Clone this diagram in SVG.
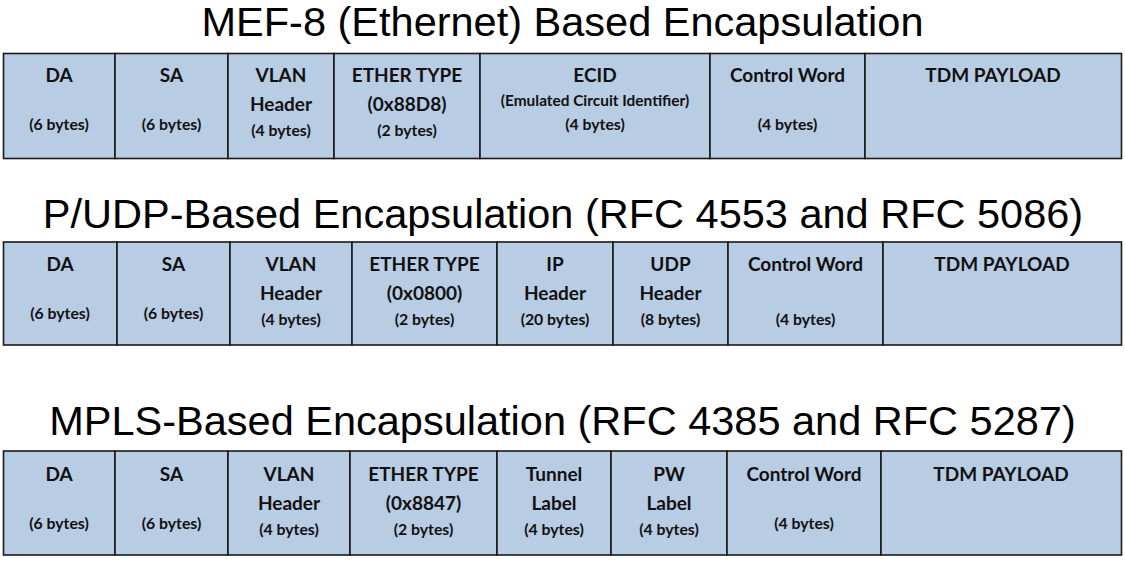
<svg xmlns="http://www.w3.org/2000/svg" width="1125" height="570" viewBox="0 0 1125 570">
<style>
.bg{fill:#ffffff}
.cell{fill:#b8cce4;stroke:#1a1a1a;stroke-width:1.6}
.title{font-family:"Liberation Sans",Arial,sans-serif;font-size:41.5px;fill:#000;text-anchor:middle}
.m{font-family:Lato,"Liberation Sans",sans-serif;font-weight:bold;font-size:19px;fill:#111;text-anchor:middle}
.s{font-family:Lato,"Liberation Sans",sans-serif;font-weight:bold;font-size:15.8px;fill:#111;text-anchor:middle}
.s2{font-size:15.4px}
</style>
<rect class="bg" x="0" y="0" width="1125" height="570"/>

<g id="title1"><text class="title" x="562.5" y="36">MEF-8 (Ethernet) Based Encapsulation</text></g>
<g id="title2"><text class="title" x="563" y="228">P/UDP-Based Encapsulation (RFC 4553 and RFC 5086)</text></g>
<g id="title3"><text class="title" x="562.5" y="435">MPLS-Based Encapsulation (RFC 4385 and RFC 5287)</text></g>

<!-- Row 1 -->
<g id="r1-da"><rect class="cell" x="3.5" y="53.5" width="111.5" height="105"/>
<text class="m" x="59" y="82">DA</text><text class="s" x="59" y="130">(6 bytes)</text></g>
<g id="r1-sa"><rect class="cell" x="115" y="53.5" width="113" height="105"/>
<text class="m" x="171.5" y="82">SA</text><text class="s" x="171.5" y="130">(6 bytes)</text></g>
<g id="r1-vlan"><rect class="cell" x="228" y="53.5" width="106" height="105"/>
<text class="m" x="281" y="82">VLAN</text><text class="m" x="281" y="111">Header</text><text class="s" x="281" y="136">(4 bytes)</text></g>
<g id="r1-ether"><rect class="cell" x="334" y="53.5" width="146" height="105"/>
<text class="m" x="407" y="82">ETHER TYPE</text><text class="m" x="407" y="111">(0x88D8)</text><text class="s" x="407" y="136">(2 bytes)</text></g>
<g id="r1-ecid"><rect class="cell" x="480" y="53.5" width="230" height="105"/>
<text class="m" x="595" y="82">ECID</text><text class="s s2" x="595" y="106">(Emulated Circuit Identifier)</text><text class="s" x="595" y="130">(4 bytes)</text></g>
<g id="r1-cw"><rect class="cell" x="710" y="53.5" width="155" height="105"/>
<text class="m" x="787.5" y="82">Control Word</text><text class="s" x="787.5" y="130">(4 bytes)</text></g>
<g id="r1-tdm"><rect class="cell" x="865" y="53.5" width="256.5" height="105"/>
<text class="m" x="993" y="82">TDM PAYLOAD</text></g>

<!-- Row 2 -->
<g id="r2-da"><rect class="cell" x="3.5" y="242" width="113.5" height="103"/>
<text class="m" x="60" y="271">DA</text><text class="s" x="60" y="319">(6 bytes)</text></g>
<g id="r2-sa"><rect class="cell" x="117" y="242" width="113" height="103"/>
<text class="m" x="173.5" y="271">SA</text><text class="s" x="173.5" y="319">(6 bytes)</text></g>
<g id="r2-vlan"><rect class="cell" x="230" y="242" width="122" height="103"/>
<text class="m" x="291" y="271">VLAN</text><text class="m" x="291" y="300">Header</text><text class="s" x="291" y="325">(4 bytes)</text></g>
<g id="r2-ether"><rect class="cell" x="352" y="242" width="145" height="103"/>
<text class="m" x="424.5" y="271">ETHER TYPE</text><text class="m" x="424.5" y="300">(0x0800)</text><text class="s" x="424.5" y="325">(2 bytes)</text></g>
<g id="r2-ip"><rect class="cell" x="497" y="242" width="116" height="103"/>
<text class="m" x="555" y="271">IP</text><text class="m" x="555" y="300">Header</text><text class="s" x="555" y="325">(20 bytes)</text></g>
<g id="r2-udp"><rect class="cell" x="613" y="242" width="115" height="103"/>
<text class="m" x="670.5" y="271">UDP</text><text class="m" x="670.5" y="300">Header</text><text class="s" x="670.5" y="325">(8 bytes)</text></g>
<g id="r2-cw"><rect class="cell" x="728" y="242" width="155" height="103"/>
<text class="m" x="805.5" y="271">Control Word</text><text class="s" x="805.5" y="325">(4 bytes)</text></g>
<g id="r2-tdm"><rect class="cell" x="883" y="242" width="238.5" height="103"/>
<text class="m" x="1002" y="271">TDM PAYLOAD</text></g>

<!-- Row 3 -->
<g id="r3-da"><rect class="cell" x="3.5" y="451" width="111.5" height="104"/>
<text class="m" x="59" y="481">DA</text><text class="s" x="59" y="529">(6 bytes)</text></g>
<g id="r3-sa"><rect class="cell" x="115" y="451" width="113" height="104"/>
<text class="m" x="171.5" y="481">SA</text><text class="s" x="171.5" y="529">(6 bytes)</text></g>
<g id="r3-vlan"><rect class="cell" x="228" y="451" width="122" height="104"/>
<text class="m" x="289" y="481">VLAN</text><text class="m" x="289" y="510">Header</text><text class="s" x="289" y="535">(4 bytes)</text></g>
<g id="r3-ether"><rect class="cell" x="350" y="451" width="147" height="104"/>
<text class="m" x="423.5" y="481">ETHER TYPE</text><text class="m" x="423.5" y="510">(0x8847)</text><text class="s" x="423.5" y="535">(2 bytes)</text></g>
<g id="r3-tunnel"><rect class="cell" x="497" y="451" width="114" height="104"/>
<text class="m" x="554" y="481">Tunnel</text><text class="m" x="554" y="510">Label</text><text class="s" x="554" y="535">(4 bytes)</text></g>
<g id="r3-pw"><rect class="cell" x="611" y="451" width="116" height="104"/>
<text class="m" x="669" y="481">PW</text><text class="m" x="669" y="510">Label</text><text class="s" x="669" y="535">(4 bytes)</text></g>
<g id="r3-cw"><rect class="cell" x="727" y="451" width="154" height="104"/>
<text class="m" x="804" y="481">Control Word</text><text class="s" x="804" y="529">(4 bytes)</text></g>
<g id="r3-tdm"><rect class="cell" x="881" y="451" width="240.5" height="104"/>
<text class="m" x="1001" y="481">TDM PAYLOAD</text></g>

<g id="connectors"></g>
</svg>
